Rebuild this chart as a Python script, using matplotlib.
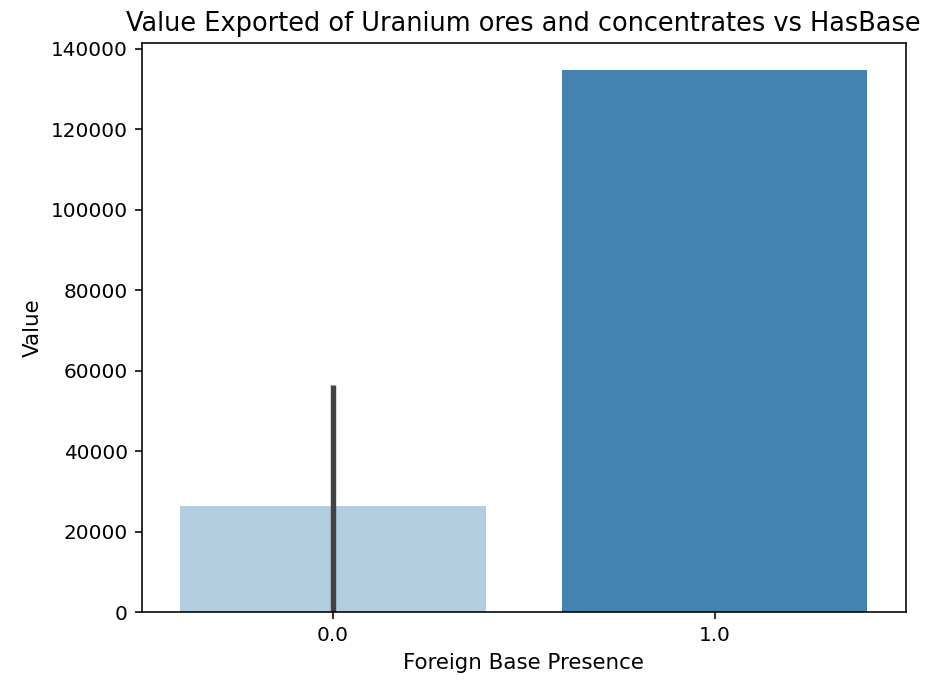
import matplotlib
matplotlib.use('Agg')
import matplotlib.pyplot as plt

# Mean export value by foreign base presence
categories = ['0.0', '1.0']
values = [26400, 134700]
ci_low = [0, 134700]
ci_high = [56500, 134700]
colors = ['#b3cde0', '#4483b0']

fig = plt.figure(figsize=(925 / 144, 681 / 144), dpi=144)
ax = fig.add_axes([0.1535, 0.1013, 0.8255, 0.8356])

x = list(range(len(categories)))
ax.bar(x, values, width=0.8, color=colors)

# Confidence interval lines
for xi, lo, hi in zip(x, ci_low, ci_high):
    if hi > lo:
        ax.plot([xi, xi], [lo, hi], color='#424242', lw=2.7, solid_capstyle='butt')

ax.set_xticks(x)
ax.set_xticklabels(categories)
ax.set_xlim(-0.5, 1.5)
ax.set_ylim(0, max(ci_high) * 1.05)
ax.set_yticks(range(0, 140001, 20000))
ax.set_xlabel('Foreign Base Presence', fontsize=10.7)
ax.set_ylabel('Value', fontsize=10.7)
ax.set_title('Value Exported of Uranium ores and concentrates vs HasBase', fontsize=12.8)

fig.savefig('out.png', dpi=144)
